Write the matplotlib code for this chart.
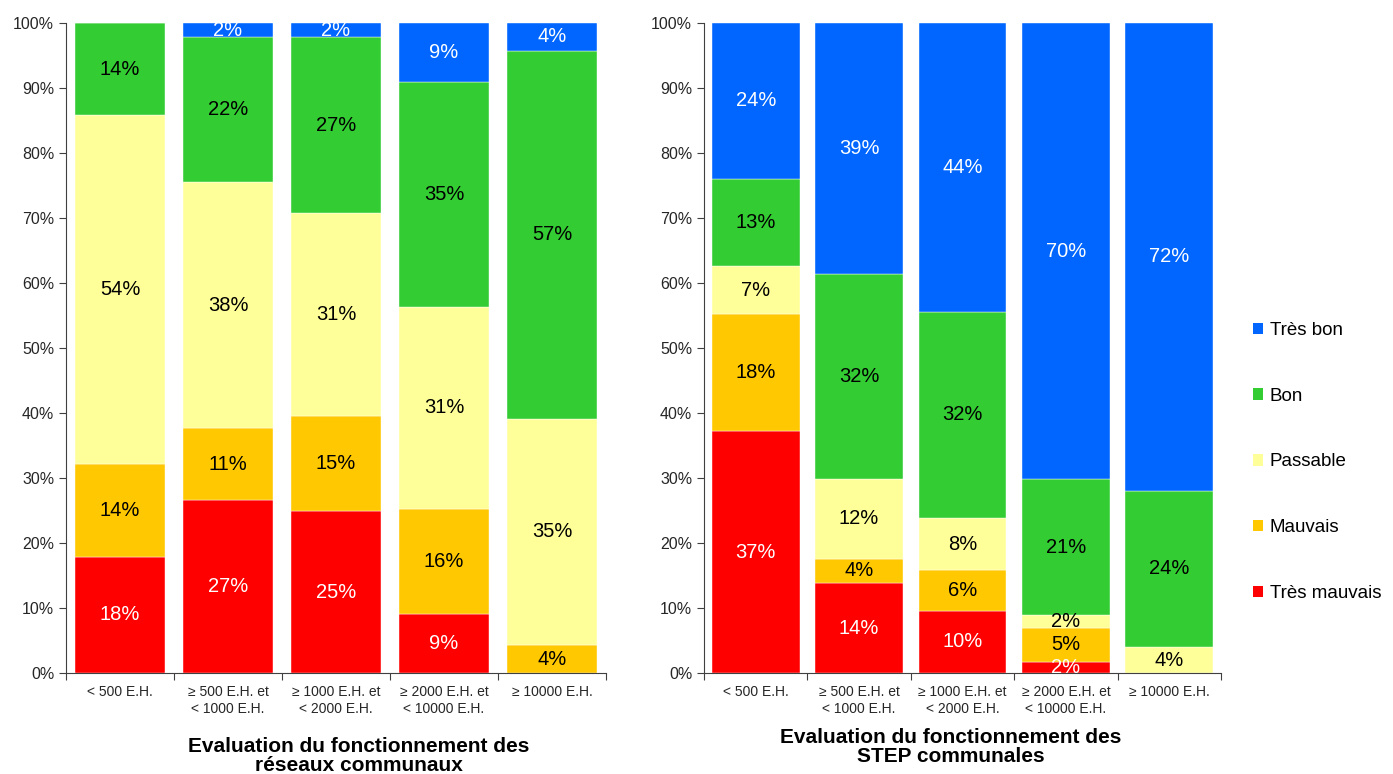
import numpy as np
import matplotlib.pyplot as plt
from matplotlib.patches import Patch

plt.rcParams['font.family'] = ['Liberation Sans', 'DejaVu Sans']

categories = ['< 500 E.H.', '≥ 500 E.H. et\n< 1000 E.H.', '≥ 1000 E.H. et\n< 2000 E.H.',
              '≥ 2000 E.H. et\n< 10000 E.H.', '≥ 10000 E.H.']
levels = ['Très mauvais', 'Mauvais', 'Passable', 'Bon', 'Très bon']
colors = ['#FF0000', '#FFC800', '#FFFF99', '#33CC33', '#0066FF']
text_colors = ['white', 'black', 'black', 'black', 'white']

# réseaux communaux (% par classe de taille)
res_tres_mauvais = [17.9, 26.6, 24.9, 9.1, 0.0]
res_mauvais = [14.3, 11.1, 14.7, 16.2, 4.3]
res_passable = [53.6, 37.8, 31.2, 31.0, 34.8]
res_bon = [14.2, 22.3, 27.0, 34.7, 56.6]
res_tres_bon = [0.0, 2.2, 2.2, 9.0, 4.3]

# STEP communales
step_tres_mauvais = [37.2, 13.8, 9.6, 1.7, 0.0]
step_mauvais = [18.0, 3.8, 6.2, 5.3, 0.0]
step_passable = [7.4, 12.2, 8.0, 1.9, 4.0]
step_bon = [13.4, 31.6, 31.8, 20.9, 24.0]
step_tres_bon = [24.0, 38.6, 44.4, 70.2, 72.0]

res = [res_tres_mauvais, res_mauvais, res_passable, res_bon, res_tres_bon]
step = [step_tres_mauvais, step_mauvais, step_passable, step_bon, step_tres_bon]

fig = plt.figure(figsize=(13.93, 7.74), dpi=100)
ax1 = fig.add_axes([66 / 1393, 1 - 673 / 774, 540 / 1393, 650 / 774])
ax2 = fig.add_axes([704 / 1393, 1 - 673 / 774, 517 / 1393, 650 / 774])


def stacked(ax, series, width):
    x = np.arange(len(categories))
    bottom = np.zeros(len(categories))
    for vals, col, tc in zip(series, colors, text_colors):
        vals = np.array(vals)
        ax.bar(x, vals, width, bottom=bottom, color=col, edgecolor='white', linewidth=0.3)
        for xi, b, v in zip(x, bottom, vals):
            if v > 0:
                ax.text(xi, b + v / 2, '%.0f%%' % v, ha='center', va='center',
                        fontsize=14.5, color=tc)
        bottom += vals
    ax.set_xlim(-0.5, len(categories) - 0.5)
    ax.set_ylim(0, 100)
    ax.set_yticks(np.arange(0, 101, 10))
    ax.set_yticklabels(['%d%%' % v for v in range(0, 101, 10)], fontsize=11.5, color='#262626')
    ax.set_xticks(np.arange(len(categories) + 1) - 0.5)
    ax.set_xticklabels([])
    ax.set_xticks(x, minor=True)
    ax.set_xticklabels(categories, minor=True, fontsize=10, color='#262626')
    ax.tick_params(axis='x', which='minor', length=0, pad=9)
    ax.tick_params(axis='both', which='major', length=5, color='#404040', direction='out')
    for s in ['top', 'right']:
        ax.spines[s].set_visible(False)
    for s in ['left', 'bottom']:
        ax.spines[s].set_color('#404040')


stacked(ax1, res, 0.84)
stacked(ax2, step, 0.85)

fig.text(359 / 1393, 1 - 756 / 774, 'Evaluation du fonctionnement des\nréseaux communaux',
         ha='center', va='center', fontsize=15, fontweight='bold', linespacing=1.0)
fig.text(951 / 1393, 1 - 747 / 774, 'Evaluation du fonctionnement des\nSTEP communales',
         ha='center', va='center', fontsize=15, fontweight='bold', linespacing=1.0)

handles = [Patch(facecolor=c, edgecolor='none', label=l) for c, l in zip(colors, levels)]
fig.legend(handles=handles[::-1], loc='center left', bbox_to_anchor=(1236 / 1393, 1 - 462 / 774),
           frameon=False, fontsize=13.5, handlelength=0.55, handleheight=0.55, handletextpad=0.35,
           labelspacing=2.6)

plt.savefig('out.png', dpi=100)
